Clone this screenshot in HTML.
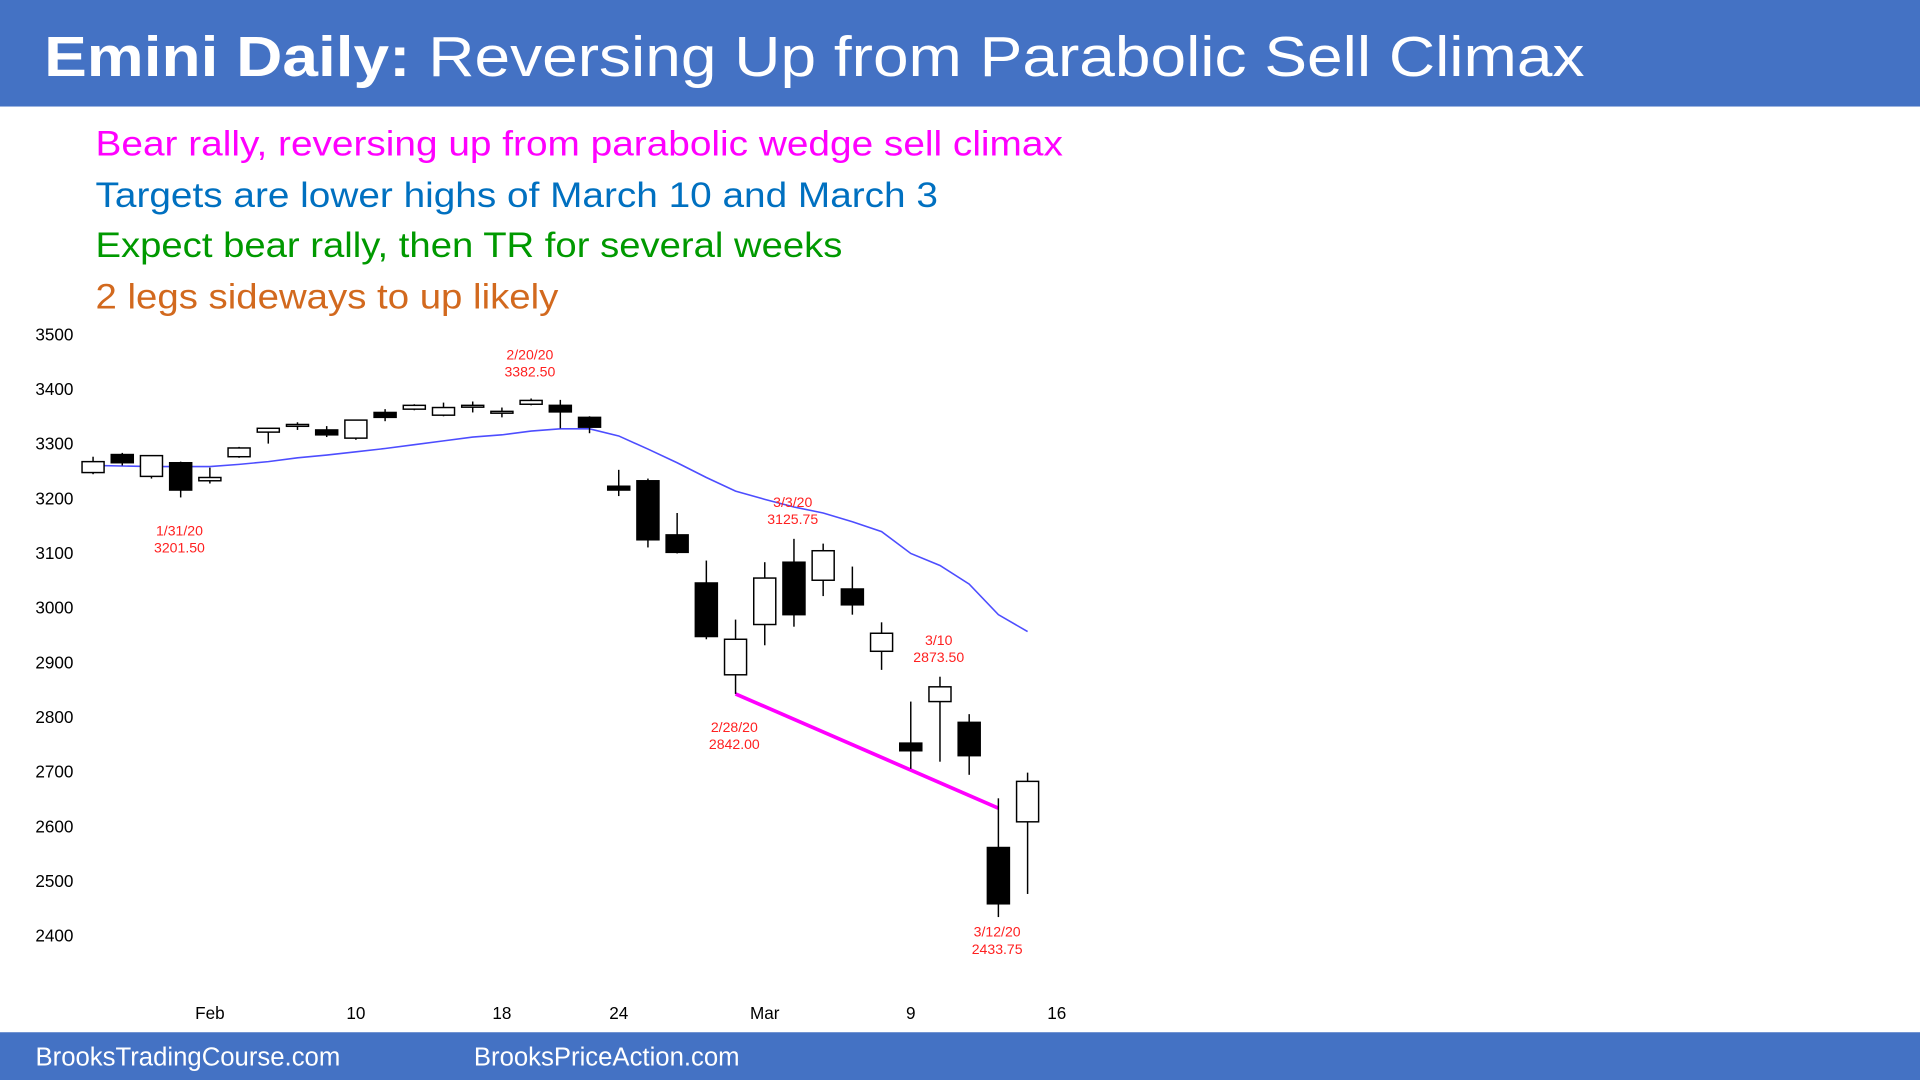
<!DOCTYPE html>
<html><head><meta charset="utf-8"><style>
html,body{margin:0;padding:0;background:#fff;overflow:hidden}
svg{display:block;font-family:"Liberation Sans",Arial,sans-serif}
</style></head><body>
<svg id="chart" width="1920" height="1080" viewBox="0 0 1568 882" xmlns="http://www.w3.org/2000/svg">
<rect x="0" y="0" width="1568" height="87" fill="#4472C4"/>
<text x="36" y="62" fill="#fff" font-size="46" textLength="1258" lengthAdjust="spacingAndGlyphs"><tspan font-weight="bold">Emini Daily:</tspan> Reversing Up from Parabolic Sell Climax</text>
<text x="78" y="127" fill="#FF00FF" font-size="29" textLength="790" lengthAdjust="spacingAndGlyphs">Bear rally, reversing up from parabolic wedge sell climax</text>
<text x="78" y="169" fill="#0070C0" font-size="29" textLength="688" lengthAdjust="spacingAndGlyphs">Targets are lower highs of March 10 and March 3</text>
<text x="78" y="210" fill="#009900" font-size="29" textLength="610" lengthAdjust="spacingAndGlyphs">Expect bear rally, then TR for several weeks</text>
<text x="78" y="252" fill="#D2691E" font-size="29" textLength="378" lengthAdjust="spacingAndGlyphs">2 legs sideways to up likely</text>
<g id="axes"></g>
<g id="ma"></g>
<g id="wedge"></g>
<g id="candles"></g>
<g id="notes"></g>
<rect x="0" y="843" width="1568" height="39" fill="#4472C4"/>
<text x="29" y="870" fill="#fff" font-size="21">BrooksTradingCourse.com</text>
<text x="387" y="870" fill="#fff" font-size="21">BrooksPriceAction.com</text>
</svg>
<script>
const opens  =[3247,3280,3240,3265,3232,3276,3321,3335,3325,3310,3357,3363,3352,3370,3359,3372,3370,3348,3222,3232,3133,3045,2877,2969,3083,3050,3034,2920,2752,2828,2790,2561,2608];
const highs  =[3276,3283,3278,3267,3256,3294,3328,3339,3332,3343,3363,3372,3375,3377,3366,3382.5,3380,3350,3252,3236,3173,3086,2978,3083,3125.75,3117,3075,2973,2828,2873.5,2805,2651,2698];
const lows   =[3244,3260,3236,3201.5,3227,3274,3300,3325,3312,3307,3341,3361,3350,3357,3348,3370,3328,3319,3204,3110,3099,2942,2842,2931,2965,3021,2987,2886,2705,2718,2694,2433.75,2476];
const closes =[3267,3265,3278,3215,3238,3292,3328,3335,3316,3343,3348,3370,3366,3370,3359,3379,3358,3330,3215,3124,3101,2947,2942,3054,2987,3104,3005,2953,2738,2855,2729,2458,2682];
const maVals =[3260,3259,3258,3258,3258,3262,3267,3274,3279,3285,3291,3298,3305,3312,3316,3323,3327,3327,3314,3290,3265,3238,3213,3198,3184,3173,3157,3139,3099,3077,3043,2987,2956];
const yTicks =[3500,3400,3300,3200,3100,3000,2900,2800,2700,2600,2500,2400];
const xTickIdx=[4,9,14,18,23,28,33];
const xTickLabels=["Feb","10","18","24","Mar","9","16"];
const wedgeIdx=[22,31];
const wedgeVals=[2842,2633];
const noteIdx=[3,15,22,24,29,31];
const noteDates=["1/31/20","2/20/20","2/28/20","3/3/20","3/10","3/12/20"];
const notePrices=["3201.50","3382.50","2842.00","3125.75","2873.50","2433.75"];
const noteAbove=[false,true,false,true,true,false];

const NS="http://www.w3.org/2000/svg";
const xs=i=>76+i*23.85;
const ys=v=>273+(3500-v)*0.44636;
// label offsets from candle extreme (layout only)
const noteGap=[31,18,31,12,12,16];
function mk(tag,attrs,parent,txt){const e=document.createElementNS(NS,tag);for(const k in attrs)e.setAttribute(k,attrs[k]);if(txt!==undefined)e.textContent=txt;parent.appendChild(e);return e;}
const axes=document.getElementById('axes');
yTicks.forEach(v=>{const t=mk('text',{x:60,y:ys(v)+5,'text-anchor':'end','font-size':14,fill:'#000'},axes,v);

});
xTickIdx.forEach((i,k)=>{const t=mk('text',{x:xs(i),y:832,'text-anchor':'middle','font-size':14,fill:'#000'},axes,xTickLabels[k]);

});
const ma=document.getElementById('ma');
const p=mk('polyline',{points:maVals.map((v,i)=>xs(i)+','+ys(v)).join(' '),fill:'none',stroke:'#4D4DFF','stroke-width':1.3},ma);


const wg=document.getElementById('wedge');
const wl=mk('line',{x1:xs(wedgeIdx[0]),y1:ys(wedgeVals[0]),x2:xs(wedgeIdx[1]),y2:ys(wedgeVals[1]),stroke:'#FF00FF','stroke-width':3},wg);


const cg=document.getElementById('candles');
opens.forEach((o,i)=>{const c=closes[i],x=xs(i),g=mk('g',{},cg);


mk('line',{x1:x,x2:x,y1:ys(highs[i]),y2:ys(lows[i]),stroke:'#000','stroke-width':1.2},g);
const top=ys(Math.max(o,c)),bot=ys(Math.min(o,c));const h=Math.max(bot-top,1.5);
const up=c>=o;mk('rect',{x:x-9,y:top,width:18,height:h,fill:up?'#fff':'#000',stroke:'#000','stroke-width':1.2},g);});
const ng=document.getElementById('notes');
noteIdx.forEach((i,k)=>{const x=xs(i);let y1,y2;
if(noteAbove[k]){y2=ys(highs[i])-noteGap[k];y1=y2-14;}else{y1=ys(lows[i])+noteGap[k];y2=y1+14;}
const t=mk('text',{x:x-1,y:y1,'text-anchor':'middle','font-size':11.5,fill:'#FF2020'},ng,noteDates[k]);


const t2=mk('text',{x:x-1,y:y2,'text-anchor':'middle','font-size':11.5,fill:'#FF2020'},ng,notePrices[k]);

});
</script>
</body></html>
